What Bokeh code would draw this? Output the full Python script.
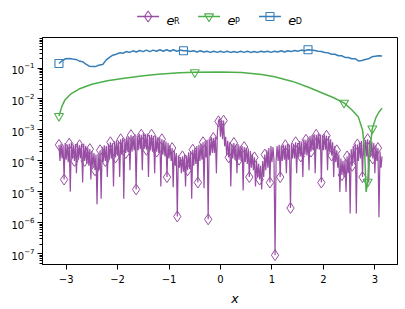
import numpy as np
from bokeh.plotting import figure
from bokeh.models import Range1d, FixedTicker
from bokeh.layouts import column
from bokeh.embed import file_html
from bokeh.resources import INLINE
from bokeh.core.properties import value

# ---- data ----
# e_R is sampled densely; its alternate samples (even / odd positions) are kept
# in two lists: even samples sit near the top of the band, odd ones in the dips.
e_R_even = [3.3e-4, 3.6e-4, 3.2e-4, 3.8e-4, 3.4e-4, 3.6e-4, 3.9e-4, 3.3e-4, 3.5e-4, 3.7e-4, 3.2e-4, 3.5e-4, 3.6e-4, 3.1e-4,
            2.7e-4, 2.4e-4, 2.1e-4, 1.8e-4, 1.6e-4, 1.7e-4, 2.2e-4,
            2.8e-4, 3.2e-4, 3e-4, 3.6e-4, 4e-4, 3.7e-4, 4.3e-4, 4.6e-4, 4.2e-4, 5e-4,
            5.5e-4, 5.2e-4, 6.2e-4, 5.8e-4, 6.8e-4, 6.4e-4, 7.2e-4, 6.6e-4, 7.5e-4, 7e-4, 7.8e-4, 7.2e-4, 7.6e-4, 6.8e-4, 7e-4,
            6.4e-4, 6.6e-4, 5.8e-4, 5.6e-4, 5e-4, 4.6e-4, 4.2e-4, 3.8e-4,
            3.2e-4, 2.6e-4, 2.2e-4, 1.8e-4, 1.5e-4, 1.3e-4, 1.4e-4, 1.6e-4, 1.5e-4, 1.9e-4, 2.1e-4, 2.3e-4, 2.6e-4,
            3e-4, 3.3e-4, 3.6e-4, 4e-4, 4.4e-4, 4.8e-4, 5.2e-4, 6e-4,
            5.5e-4, 6e-4, 9e-4, 2.3e-3, 2.1e-3, 2e-3, 6e-4, 4.5e-4,
            4e-4, 3.6e-4, 3.8e-4, 3.3e-4, 3.5e-4, 3.1e-4, 3e-4, 2.8e-4, 2.7e-4, 2.5e-4,
            2.1e-4, 1.7e-4, 1.3e-4, 1e-4, 8e-5, 7e-5, 1e-4,
            1.6e-4, 2.2e-4, 2.6e-4, 3e-4, 2.8e-4, 9e-8, 3e-4, 3.3e-4, 3.1e-4, 3.4e-4, 3.2e-4,
            3.5e-4, 3.3e-4, 3.7e-4, 3.5e-4, 4e-4, 3.8e-4, 4.4e-4, 4.2e-4, 5e-4, 4.8e-4, 5.6e-4,
            6.4e-4, 6.8e-4, 7.4e-4, 7e-4, 7.6e-4, 7e-4, 6.8e-4, 7.2e-4, 6.5e-4, 6.2e-4,
            5e-4, 4e-4, 3e-4, 2.2e-4, 1.6e-4, 1.2e-4, 1e-4, 1.1e-4, 1.4e-4, 1.8e-4,
            2.4e-4, 3e-4, 3.6e-4, 3.4e-4, 4e-4, 4.4e-4, 4.6e-4, 4.8e-4, 5e-4,
            4.6e-4, 4.2e-4, 3.8e-4, 3.2e-4, 2.6e-4, 2e-4, 1.4e-4]
e_R_odd = [1e-4, 1.2e-4, 2.5e-5, 1.1e-4, 9e-5, 1e-5, 1.2e-4, 1e-4, 4e-5, 1.1e-4, 1.2e-4, 2e-5, 1e-4, 8e-5,
           7e-5, 2.5e-5, 6e-5, 5e-5, 4e-6, 5e-5, 6e-6,
           9e-5, 1e-4, 3e-5, 1.1e-4, 1.2e-4, 1.5e-5, 1.3e-4, 1.5e-4, 3e-5, 1.6e-4,
           6e-6, 1.8e-4, 2e-4, 5e-5, 2e-4, 2.2e-4, 1.2e-5, 2.2e-4, 2.4e-4, 5e-5, 2.5e-4, 2.3e-4, 3e-5, 2.2e-4, 2e-4,
           4e-5, 2e-4, 1.8e-4, 1.5e-5, 1.6e-4, 1.4e-4, 3e-5, 1.2e-4,
           1e-4, 1.4e-5, 7e-5, 1.6e-6, 6e-5, 4e-5, 4.5e-5, 1.5e-5, 5e-5, 5.5e-5, 6e-6, 7e-5, 8e-5,
           2e-5, 1e-4, 1.1e-4, 1.3e-5, 1.3e-4, 1.3e-6, 1.5e-4, 1.8e-4,
           1.8e-4, 4e-5, 1.9e-3, 6e-4, 5e-4, 3e-4, 1.5e-4, 1.3e-4,
           1.5e-5, 1.2e-4, 1.1e-4, 4e-5, 1.1e-4, 1e-4, 1.1e-5, 9e-5, 8e-5, 3e-5,
           6e-5, 5e-5, 1.5e-5, 3e-5, 2.5e-5, 1.2e-5, 3e-5,
           5e-5, 6e-5, 2e-5, 9e-5, 1e-4, 1e-4, 1e-4, 3e-5, 1e-4, 1.1e-4, 4e-5,
           1.1e-4, 3e-6, 1.2e-4, 1.2e-4, 4e-5, 1.3e-4, 1.4e-4, 3e-5, 1.6e-4, 1.5e-4, 5e-5,
           2e-4, 2.2e-4, 4e-5, 2.4e-4, 2.3e-4, 2e-5, 2.2e-4, 2.3e-4, 5e-5, 2e-4,
           1.5e-4, 3e-5, 9e-5, 6e-5, 1e-5, 3.5e-5, 3e-5, 1e-5, 4e-5, 2e-6,
           7e-5, 9e-5, 2e-6, 1e-4, 1.2e-4, 3e-5, 1.4e-4, 1.4e-4, 2e-5,
           1.4e-4, 1.2e-4, 4e-5, 1e-4, 1.5e-6, 6e-5]
R_every = 5

x_P = [-3.14, -3.08, -3.02, -2.9, -2.75, -2.5, -2.2, -1.87, -1.5, -1.21, -0.8,
       -0.5, 0.0, 0.41, 0.8, 1.05, 1.4, 1.71, 2.0, 2.2, 2.4, 2.55, 2.68, 2.76,
       2.8, 2.83, 2.86, 2.9, 2.95, 3.02, 3.08, 3.14]
e_P = [2.8e-3, 6e-3, 9.5e-3, 1.5e-2, 2.1e-2, 3e-2, 3.9e-2, 4.7e-2, 5.6e-2, 6.3e-2,
       7e-2, 7.3e-2, 7.4e-2, 7.2e-2, 6.2e-2, 5.2e-2, 3.7e-2, 2.4e-2, 1.5e-2, 1.1e-2,
       7.5e-3, 4.5e-3, 2.6e-3, 1e-3, 2.5e-4, 1e-5, 2.1e-5, 2e-4, 1.1e-3, 2.5e-3,
       3.8e-3, 5e-3]
P_marks = [0, 11, 20, 26, 28]

e_D = [0.14, 0.175, 0.2, 0.205, 0.195, 0.19, 0.17, 0.16, 0.135, 0.115,
       0.112, 0.113, 0.125, 0.13, 0.18, 0.22, 0.26, 0.28, 0.31, 0.30,
       0.34, 0.32, 0.36, 0.33, 0.37, 0.34, 0.38, 0.34, 0.38, 0.35,
       0.39, 0.35, 0.39, 0.35, 0.39, 0.35, 0.38, 0.36, 0.36, 0.34,
       0.36, 0.33, 0.36, 0.33, 0.35, 0.32, 0.35, 0.32, 0.35, 0.32,
       0.35, 0.32, 0.34, 0.32, 0.35, 0.32, 0.35, 0.32, 0.34, 0.32,
       0.35, 0.33, 0.35, 0.32, 0.35, 0.33, 0.36, 0.33, 0.36, 0.34,
       0.37, 0.35, 0.38, 0.36, 0.39, 0.38, 0.37, 0.35, 0.34, 0.32,
       0.31, 0.28, 0.28, 0.25, 0.25, 0.22, 0.22, 0.2, 0.2, 0.17,
       0.175, 0.19, 0.2, 0.23, 0.24, 0.25, 0.245]
D_every = 37

x_ticks = [-3, -2, -1, 0, 1, 2, 3]
x_tick_labels = ["\u22123", "\u22122", "\u22121", "0", "1", "2", "3"]
y_ticks = [1e-7, 1e-6, 1e-5, 1e-4, 1e-3, 1e-2, 1e-1]
y_minor = [m * 10.0 ** k for k in range(-8, 0) for m in range(2, 10)]

series_names = ["R", "P", "D"]
PURPLE, GREEN, BLUE = "#984ea3", "#4daf4a", "#377eb8"
colors = [PURPLE, GREEN, BLUE]
markers = ["diamond", "inverted_triangle", "square"]
msizes = [11, 9, 8]
FONT = "DejaVu Sans"
W = 405

# interleave the alternate samples into one series
e_R = np.empty(len(e_R_even) + len(e_R_odd))
e_R[0::2] = e_R_even
e_R[1::2] = e_R_odd
x_R = np.linspace(-3.14, 3.14, len(e_R))
x_D = np.linspace(-3.14, 3.14, len(e_D))
e_D_arr = np.asarray(e_D)

# ---- legend strip (page coordinates) ----
LG_H = 36
lg = figure(width=W, height=LG_H, x_range=Range1d(0, W), y_range=Range1d(LG_H, 0),
            output_backend="svg", toolbar_location=None, min_border=0,
            x_axis_type=None, y_axis_type=None)
lg.grid.visible = False
lg.outline_line_color = None

x0, step, ly = 108, 69.5, 16
for i, (nm, c, mk, ms) in enumerate(zip(series_names, colors, markers, msizes)):
    lx = x0 + i * step
    lg.line([lx, lx + 25], [ly, ly], line_color=c, line_width=1.5)
    lg.scatter([lx + 12.5], [ly], marker=mk, size=ms, line_color=c,
               fill_color=None, line_width=1.1)
    lg.text([lx + 33.5], [ly + 4], text=["e"], text_font=value(FONT),
            text_font_style="italic", text_font_size="13px",
            text_baseline="alphabetic", text_color="black")
    lg.text([lx + 42], [ly + 5], text=[nm], text_font=value(FONT),
            text_font_size="8px", text_baseline="alphabetic",
            text_color="black")

# ---- main plot ----
P_H = 251
p = figure(width=W, height=P_H, y_axis_type="log",
           x_range=Range1d(-3.46, 3.44), y_range=Range1d(4.5e-8, 0.97),
           output_backend="svg", toolbar_location=None,
           min_border_left=42, min_border_right=8, min_border_top=1,
           min_border_bottom=23)
p.grid.visible = False
p.outline_line_color = "black"
p.outline_line_width = 1

p.line(x_R, e_R, line_color=PURPLE, line_width=1.2)
p.scatter(x_R[::R_every], e_R[::R_every], marker="diamond", size=msizes[0],
          line_color=PURPLE, fill_color=None, line_width=1.0)

p.line(x_P, e_P, line_color=GREEN, line_width=1.5)
p.scatter([x_P[i] for i in P_marks], [e_P[i] for i in P_marks],
          marker="inverted_triangle", size=msizes[1], line_color=GREEN,
          fill_color=None, line_width=1.1)

p.line(x_D, e_D_arr, line_color=BLUE, line_width=1.5)
p.scatter(x_D[::D_every], e_D_arr[::D_every], marker="square", size=msizes[2],
          line_color=BLUE, fill_color=None, line_width=1.1)

for ax in (p.xaxis[0], p.yaxis[0]):
    ax.axis_line_color = "black"
    ax.major_tick_line_color = "black"
    ax.minor_tick_line_color = "black"
    ax.major_tick_in = 0
    ax.minor_tick_in = 0
    ax.major_tick_out = 5
    ax.minor_tick_out = 3
    ax.major_label_text_font = FONT
    ax.major_label_text_font_size = "10px"
    ax.major_label_text_color = "black"

p.xaxis.ticker = FixedTicker(ticks=x_ticks, minor_ticks=[])
p.xaxis.major_label_overrides = {t: l for t, l in zip(x_ticks, x_tick_labels)}
p.xaxis.major_label_standoff = 5
p.yaxis.ticker = FixedTicker(ticks=y_ticks, minor_ticks=y_minor)
p.yaxis.major_label_standoff = 3

# ---- x-axis label strip (page coordinates) ----
top = LG_H + P_H
XL_H = 21
xl = figure(width=W, height=XL_H, x_range=Range1d(0, W), y_range=Range1d(top + XL_H, top),
            output_backend="svg", toolbar_location=None, min_border=0,
            x_axis_type=None, y_axis_type=None)
xl.grid.visible = False
xl.outline_line_color = None
xl.text([219.5], [297.5], text=["x"], text_font=value(FONT), text_font_style="italic",
        text_font_size="12.5px", text_align="center", text_baseline="alphabetic",
        text_color="black")

layout = column(lg, p, xl, spacing=0)
open("out.html", "w").write(file_html(layout, INLINE))
